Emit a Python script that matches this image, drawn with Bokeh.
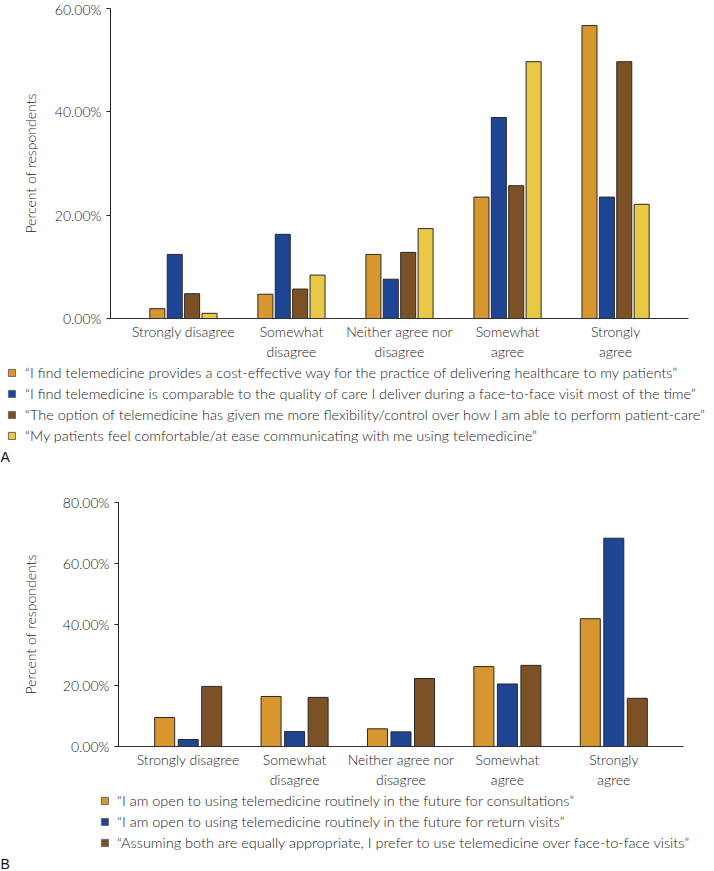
from bokeh.plotting import figure
from bokeh.models import FactorRange, ColumnDataSource, FixedTicker, PrintfTickFormatter, Label
from bokeh.transform import dodge
from bokeh.embed import file_html
from bokeh.resources import INLINE

# ---------------- data ----------------
categories = ["Strongly disagree", "Somewhat\ndisagree", "Neither agree nor\ndisagree",
              "Somewhat\nagree", "Strongly\nagree"]

# Panel A (percent of respondents)
a_cost_effective = [1.9, 4.7, 12.4, 23.5, 56.7]
a_comparable = [12.4, 16.3, 7.6, 38.9, 23.5]
a_flexibility = [4.8, 5.7, 12.8, 25.7, 49.7]
a_comfortable = [1.0, 8.4, 17.4, 49.7, 22.1]
a_labels = [
    "\u201cI find telemedicine provides a cost-effective way for the practice of delivering healthcare to my patients\u201d",
    "\u201cI find telemedicine is comparable to the quality of care I deliver during a face-to-face visit most of the time\u201d",
    "\u201cThe option of telemedicine has given me more flexibility/control over how I am able to perform patient-care\u201d",
    "\u201cMy patients feel comfortable/at ease communicating with me using telemedicine\u201d",
]
a_ticks = [0, 20, 40, 60]

# Panel B (percent of respondents)
b_consultations = [9.5, 16.4, 5.8, 26.2, 41.9]
b_return_visits = [2.3, 4.9, 4.8, 20.5, 68.3]
b_prefer_tele = [19.7, 16.1, 22.3, 26.6, 15.8]
b_labels = [
    "\u201cI am open to using telemedicine routinely in the future for consultations\u201d",
    "\u201cI am open to using telemedicine routinely in the future for return visits\u201d",
    "\u201cAssuming both are equally appropriate, I prefer to use telemedicine over face-to-face visits\u201d",
]
b_ticks = [0, 20, 40, 60, 80]

ORANGE = "#D8962F"
BLUE = "#1E4594"
BROWN = "#7C5125"
YELLOW = "#E9C846"
FONT = "Lato Light"
TXT = "#1a1a1a"
W = 714


def style(p, ticks, ylabel, label_standoff):
    p.xgrid.visible = False
    p.ygrid.visible = False
    p.outline_line_color = None
    p.yaxis.ticker = FixedTicker(ticks=ticks)
    p.yaxis.formatter = PrintfTickFormatter(format="%.2f%%")
    p.yaxis.minor_tick_line_color = None
    p.yaxis.major_tick_out = 4
    p.yaxis.major_tick_in = 0
    p.yaxis.axis_label = ylabel
    p.yaxis.axis_label_text_font_style = "normal"
    p.yaxis.axis_label_text_font = FONT
    p.yaxis.axis_label_text_font_size = "14px"
    p.yaxis.axis_label_text_color = TXT
    p.yaxis.axis_label_standoff = label_standoff
    p.yaxis.major_label_text_font = FONT
    p.yaxis.major_label_text_font_size = "14px"
    p.yaxis.major_label_text_color = TXT
    p.yaxis.major_label_standoff = 5
    p.yaxis.axis_line_color = "#222222"
    p.yaxis.major_tick_line_color = "#222222"
    p.xaxis.major_tick_line_color = None
    p.xaxis.minor_tick_line_color = None
    p.xaxis.major_tick_out = 0
    p.xaxis.major_tick_in = 0
    p.xaxis.minor_tick_out = 0
    p.xaxis.axis_line_color = "#333333"
    p.xaxis.major_label_text_font = FONT
    p.xaxis.major_label_text_font_size = "14px"
    p.xaxis.major_label_text_color = TXT
    p.xaxis.major_label_standoff = 4


def legend_fig(height, source, keys, colors, labels, vx, vy, standoff, tag, tag_y):
    f = figure(width=W, height=height, output_backend="svg", toolbar_location=None,
               x_range=FactorRange(factors=categories), y_range=(0, 100), min_border=0,
               x_axis_location=None, y_axis_location=None)
    f.grid.visible = False
    f.outline_line_color = None
    for key, c, lab in zip(keys, colors, labels):
        f.vbar(x="cats", top=key, width=0.1, source=source, fill_color=c,
               line_color="#6a6a6a", line_width=1, legend_label=lab, visible=False)
    lg = f.legend[0]
    lg.location = (vx, vy)
    lg.orientation = "vertical"
    lg.border_line_color = None
    lg.background_fill_alpha = 0
    lg.inactive_fill_alpha = 0
    lg.padding = 0
    lg.margin = 0
    lg.spacing = 4
    lg.glyph_width = 9
    lg.glyph_height = 9
    lg.label_height = 17
    lg.label_standoff = standoff
    lg.label_text_font = FONT
    lg.label_text_font_size = "14.5px"
    lg.label_text_color = TXT
    lg.label_text_baseline = "middle"
    f.add_layout(Label(x=0, y=tag_y, x_units="screen", y_units="screen", text=tag,
                       text_font="Liberation Sans", text_font_size="14px",
                       text_color="#111111", text_baseline="middle", text_align="left"))
    return f


# ---------------- Panel A ----------------
src_a = ColumnDataSource(data=dict(cats=categories, s1=a_cost_effective, s2=a_comparable,
                                   s3=a_flexibility, s4=a_comfortable))
pa = figure(width=W, height=362, output_backend="svg", toolbar_location=None,
            x_range=FactorRange(factors=categories, range_padding=0.175,
                                range_padding_units="absolute"),
            y_range=(0, 60), min_border_left=110, min_border_right=26,
            min_border_top=8, min_border_bottom=44)
step_a = 0.161
w_a = 0.139
for i, (key, col) in enumerate(zip(["s1", "s2", "s3", "s4"], [ORANGE, BLUE, BROWN, YELLOW])):
    pa.vbar(x=dodge("cats", (i - 1.5) * step_a, range=pa.x_range), top=key, width=w_a,
            source=src_a, fill_color=col, line_color="#2a2a2a", line_width=1)
style(pa, a_ticks, "Percent of respondents", 13)

leg_a = legend_fig(103, src_a, ["s1", "s2", "s3", "s4"], [ORANGE, BLUE, BROWN, YELLOW],
                   a_labels, 7, 20.8, 9, "A", 9)

# ---------------- Panel B ----------------
src_b = ColumnDataSource(data=dict(cats=categories, s1=b_consultations, s2=b_return_visits,
                                   s3=b_prefer_tele))
pb = figure(width=W, height=325, output_backend="svg", toolbar_location=None,
            x_range=FactorRange(factors=categories, range_padding=0.155,
                                range_padding_units="absolute"),
            y_range=(0, 80), min_border_left=118, min_border_right=31,
            min_border_top=37, min_border_bottom=44)
step_b = 0.221
w_b = 0.188
for i, (key, col) in enumerate(zip(["s1", "s2", "s3"], [ORANGE, BLUE, BROWN])):
    pb.vbar(x=dodge("cats", (i - 1) * step_b, range=pb.x_range), top=key, width=w_b,
            source=src_b, fill_color=col, line_color="#2a2a2a", line_width=1)
style(pb, b_ticks, "Percent of respondents", 21)

leg_b = legend_fig(80, src_b, ["s1", "s2", "s3"], [ORANGE, BLUE, BROWN],
                   b_labels, 100, 19, 8, "B", 7)

open("out.html", "w").write(file_html([pa, leg_a, pb, leg_b], INLINE))
